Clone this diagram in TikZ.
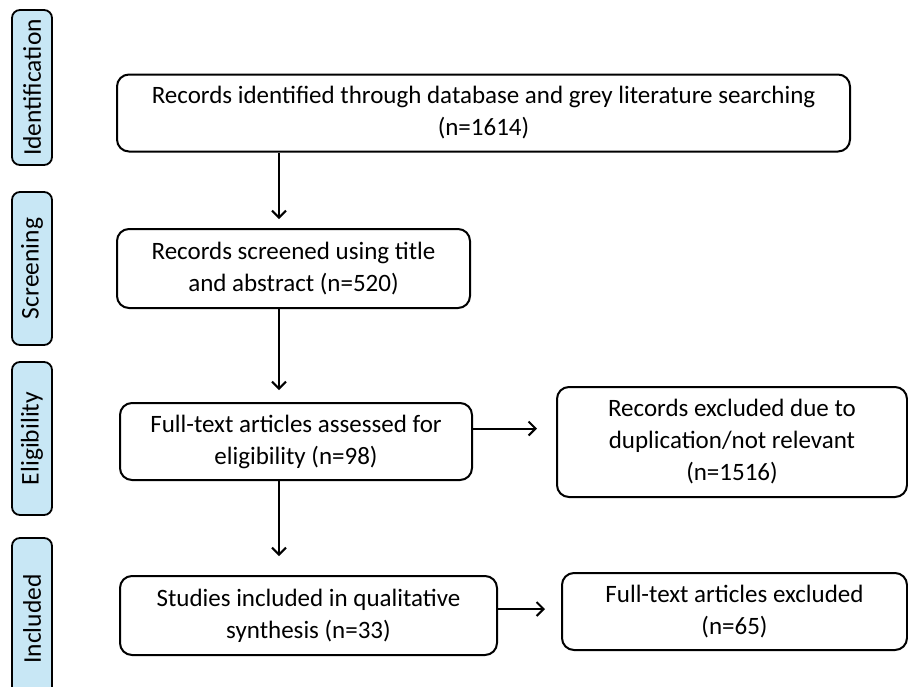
\documentclass[tikz,border=0pt]{standalone}
\usepackage{fontspec}
\setmainfont{Carlito}
\usepackage{tikz}
\usetikzlibrary{arrows.meta}
\definecolor{phaseblue}{RGB}{200,231,245}

\begin{document}
\begin{tikzpicture}[x=1pt,y=-1pt,
  stage/.style={draw,line width=2pt,rounded corners=12pt,fill=white,align=center,
    inner sep=0pt,font=\fontsize{25}{32}\selectfont},
  phase/.style={draw,line width=1.8pt,rounded corners=8pt,fill=phaseblue,rotate=90,
    inner sep=0pt,minimum height=40pt,font=\fontsize{25.5}{28}\selectfont},
  flow/.style={line width=2pt,-{Straight Barb[length=7pt,width=14pt,line width=2pt]}}]
\useasboundingbox (0,0) rectangle (908,686);

% Phases down the left side
\node[phase,minimum width=155pt] (ident) at (32,87.5) {Identification};
\node[phase,minimum width=153pt] (screen) at (32,268.5) {Screening};
\node[phase,minimum width=153pt] (elig) at (32,438.5) {Eligibility};
\node[phase,minimum width=162pt] (incl) at (32,619) {Included};

% Main boxes
\node[stage,minimum width=733pt,minimum height=77pt] (rec) at (483.5,113)
  {Records identified through database and grey literature searching\\(n=1614)};
\node[stage,minimum width=353pt,minimum height=79pt] (scr) at (293.5,268.5)
  {Records screened using title\\and abstract (n=520)};
\node[stage,minimum width=352pt,minimum height=77pt] (full) at (296,441.5)
  {Full-text articles assessed for\\eligibility (n=98)};
\node[stage,minimum width=350pt,minimum height=110pt] (excl) at (732,442)
  {Records excluded due to\\duplication/not relevant\\(n=1516)};
\node[stage,minimum width=377pt,minimum height=79pt] (stud) at (308.5,615.5)
  {Studies included in qualitative\\synthesis (n=33)};
\node[stage,minimum width=345pt,minimum height=77pt] (ftex) at (734.5,611.5)
  {Full-text articles excluded\\(n=65)};

% Arrows
\coordinate (spine) at (279,0);
\draw[flow] (rec.south -| spine) -- ([yshift=9pt]scr.north -| spine);
\draw[flow] (scr.south -| spine) -- ([yshift=12pt]full.north -| spine);
\draw[flow] (full.south -| spine) -- ([yshift=19pt]stud.north -| spine);
\draw[flow] ([yshift=13pt]full.east) -- ([xshift=-19pt,yshift=13pt]excl.west |- full.east);
\draw[flow] ([yshift=6.5pt]stud.east) -- ([xshift=-16pt,yshift=6.5pt]ftex.west |- stud.east);
\end{tikzpicture}
\end{document}
